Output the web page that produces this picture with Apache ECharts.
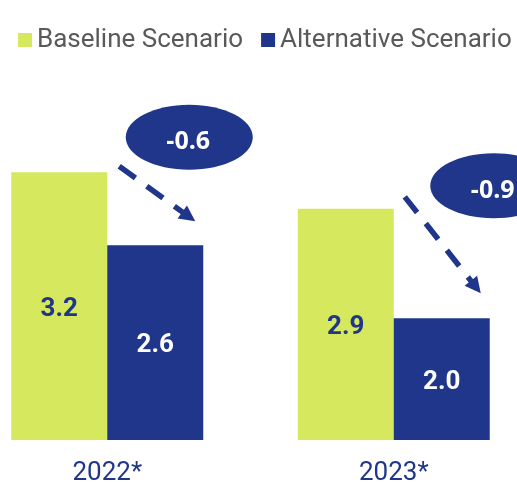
<!DOCTYPE html>
<html><head><meta charset="utf-8">
<script src="https://cdn.jsdelivr.net/npm/echarts@6/dist/echarts.min.js"></script>
<style>html,body{margin:0;padding:0;background:#fff}#c{width:517px;height:482px}</style>
</head><body><div id="c"></div>
<script>
var categories = ['2022*', '2023*'];
var baseline = [3.2, 2.9];
var alternative = [2.6, 2.0];
var differences = [-0.6, -0.9];
var seriesNames = ['Baseline Scenario', 'Alternative Scenario'];

var LIME = '#d5e85e', BLUE = '#1f368a';
// per-group callout layout offsets (pixels relative to category centre / bar tops)
var layout = [
  {sx: 12, sy: -6, tx: 88, ty: -24, ex: 82, ey: -35},
  {sx: 11, sy: -12, tx: 87, ty: -25, ex: 100, ey: -23}
];

var calloutData = categories.map(function (c, i) {
  return [i, baseline[i], alternative[i], differences[i]];
});

var chart = echarts.init(document.getElementById('c'), null, {renderer: 'canvas'});
chart.setOption({
  animation: false,
  textStyle: {fontFamily: 'Roboto'},
  legend: {
    data: seriesNames,
    left: 13, top: 22, width: 510,
    itemWidth: 14, itemHeight: 14, itemGap: 18,
    icon: 'rect',
    textStyle: {fontFamily: 'Roboto', fontSize: 26, color: '#595959', padding: [0, 0, 0, 0]}
  },
  grid: {left: -36, right: -20, top: 75, bottom: 42, containLabel: false, outerBoundsMode: 'none'},
  xAxis: {
    type: 'category', data: categories,
    axisLine: {show: false}, axisTick: {show: false},
    axisLabel: {fontFamily: 'Roboto', fontSize: 26, color: BLUE, margin: 20}
  },
  yAxis: {type: 'value', min: 1, max: 4, show: false, splitLine: {show: false}},
  series: [
    {
      name: seriesNames[0], type: 'bar', data: baseline, barWidth: 96, barGap: '0%',
      itemStyle: {color: LIME},
      label: {show: true, position: 'inside', offset: [0, 3], color: BLUE, fontWeight: 'bold', fontSize: 26, fontFamily: 'Roboto',
        formatter: function (p) { return p.value.toFixed(1); }}
    },
    {
      name: seriesNames[1], type: 'bar', data: alternative, barWidth: 96, barGap: '0%',
      itemStyle: {color: BLUE},
      label: {show: true, position: 'inside', offset: [0, 3], color: '#fff', fontWeight: 'bold', fontSize: 26, fontFamily: 'Roboto',
        formatter: function (p) { return p.value.toFixed(1); }}
    },
    {
      type: 'custom', name: 'callout', data: calloutData, clip: false, z: 10,
      encode: {x: 0, y: [1, 2]},
      renderItem: function (params, api) {
        var idx = api.value(0);
        var L = layout[idx];
        var pf = api.coord([idx, api.value(1)]);
        var pt = api.coord([idx, api.value(2)]);
        var cx = pf[0];
        var sx = cx + L.sx, sy = pf[1] + L.sy;
        var tx = cx + L.tx, ty = pt[1] + L.ty;
        var dx = tx - sx, dy = ty - sy, len = Math.sqrt(dx * dx + dy * dy);
        var ux = dx / len, uy = dy / len;
        var hl = 16, hw = 8;
        var bx = tx - ux * hl, by = ty - uy * hl;
        var ex = cx + L.ex, ey = pf[1] + L.ey;
        var d = api.value(3);
        return {
          type: 'group',
          children: [
            {type: 'line', shape: {x1: sx, y1: sy, x2: bx + ux * 2, y2: by + uy * 2},
              style: {stroke: BLUE, lineWidth: 5.5, lineDash: [20, 14]}},
            {type: 'polygon', shape: {points: [[tx, ty], [bx - uy * hw, by + ux * hw], [bx + uy * hw, by - ux * hw]]},
              style: {fill: BLUE}},
            {type: 'ellipse', shape: {cx: ex, cy: ey, rx: 63.5, ry: 32.5}, style: {fill: BLUE}},
            {type: 'text', x: ex - 1, y: ey + 5, style: {text: d.toFixed(1), fill: '#fff', fontSize: 25, fontWeight: 'bold',
              fontFamily: 'Open Sans', align: 'center', verticalAlign: 'middle'}}
          ]
        };
      }
    }
  ]
});
</script></body></html>
